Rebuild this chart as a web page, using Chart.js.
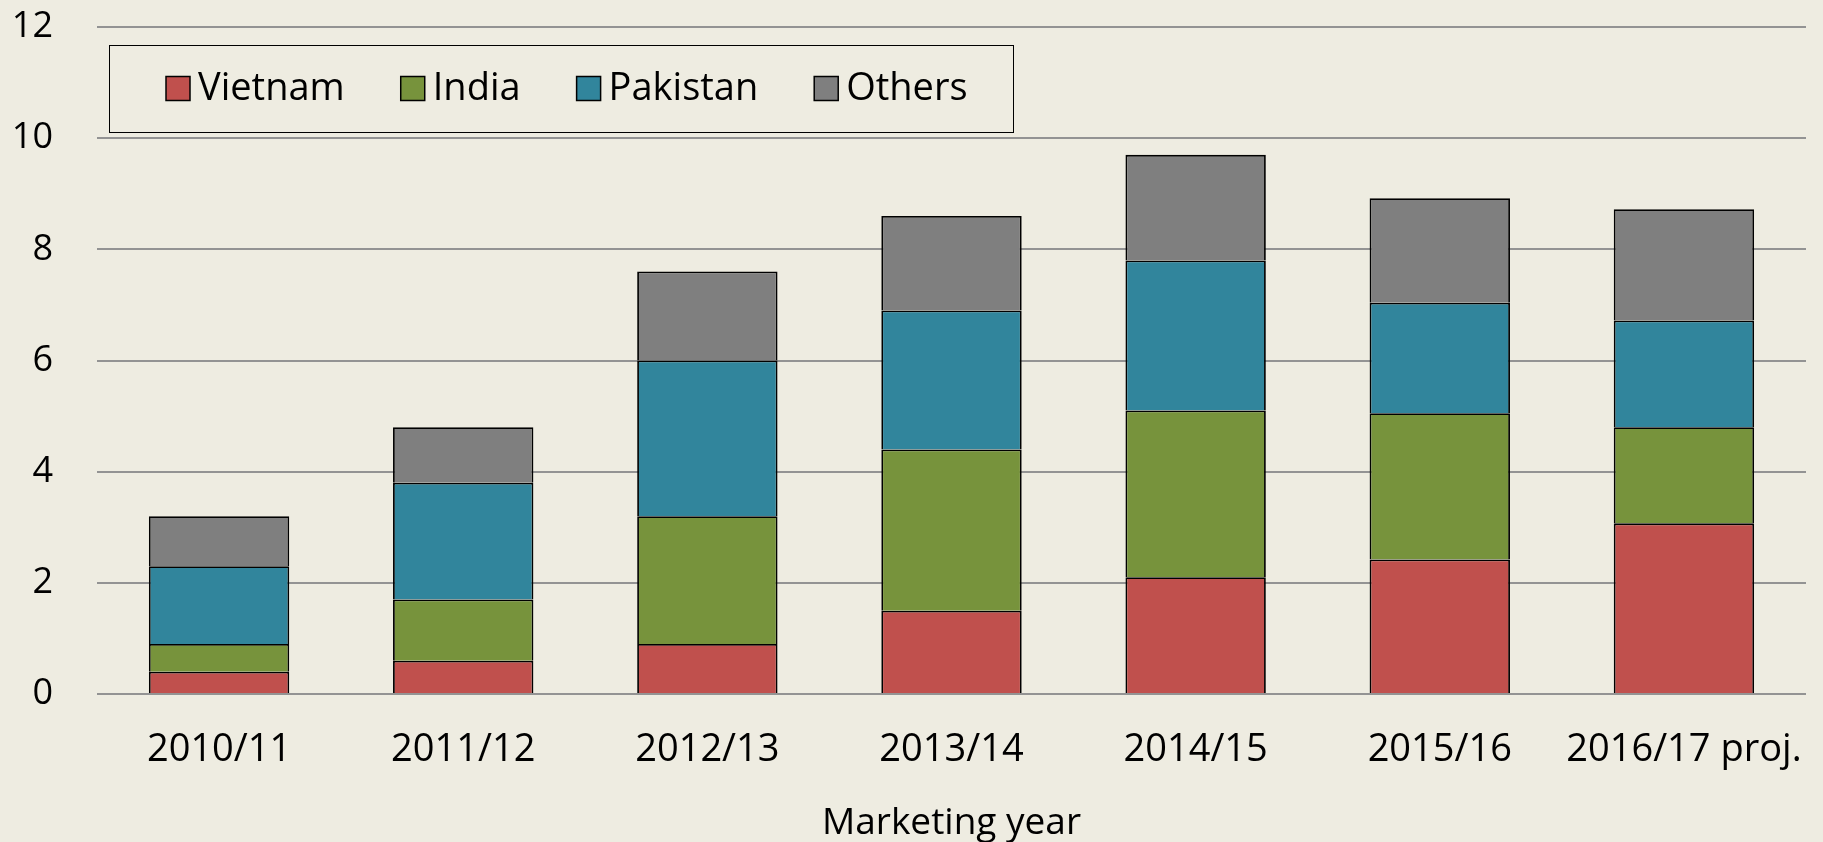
<!DOCTYPE html>
<html>
<head>
<meta charset="utf-8">
<script src="https://cdn.jsdelivr.net/npm/chart.js@4.4.1/dist/chart.umd.min.js"></script>
<style>
  body { margin: 0; background: #EEECE1; }
  #wrap { width: 1823px; height: 842px; position: relative; }
</style>
</head>
<body>
<div id="wrap"><canvas id="myChart"></canvas></div>
<script>
  var years = ["2010/11", "2011/12", "2012/13", "2013/14", "2014/15", "2015/16", "2016/17 proj."];
  var vietnam = [0.4, 0.6, 0.9, 1.5, 2.1, 2.42, 3.07];
  var india = [0.5, 1.1, 2.3, 2.9, 3.0, 2.63, 1.73];
  var pakistan = [1.4, 2.1, 2.8, 2.5, 2.7, 1.99, 1.92];
  var others = [0.9, 1.0, 1.6, 1.7, 1.9, 1.88, 2.0];
  var yTicks = [0, 2, 4, 6, 8, 10, 12];

  var fontFamily = "'Open Sans', 'Liberation Sans', sans-serif";
  var bgColor = "#EEECE1";

  // keep gridlines from running past the last category on the right
  var trimGrid = {
    id: "trimGrid",
    beforeDatasetsDraw: function (chart) {
      var xs = chart.scales.x;
      var area = chart.chartArea;
      var ctx = chart.ctx;
      ctx.save();
      ctx.fillStyle = bgColor;
      ctx.fillRect(xs.right + 1, area.top - 4, chart.width - xs.right, area.bottom - area.top + 8);
      ctx.restore();
    }
  };

  // legend drawn inside the plot area, with a thin box round it
  var boxedLegend = {
    id: "boxedLegend",
    afterDraw: function (chart) {
      var ctx = chart.ctx;
      var area = chart.chartArea;
      var left = area.left + 12;
      var top = area.top + 18;
      var w = 904, h = 87;
      ctx.save();
      ctx.fillStyle = bgColor;
      ctx.fillRect(left, top, w, h);
      ctx.strokeStyle = "#000";
      ctx.lineWidth = 1;
      ctx.strokeRect(left + 0.5, top + 0.5, w, h);
      ctx.font = "38px " + fontFamily;
      ctx.textBaseline = "middle";
      var x = left + 57;
      var cy = top + h / 2;
      chart.data.datasets.forEach(function (ds) {
        ctx.fillStyle = ds.backgroundColor;
        ctx.fillRect(x, cy - 12, 24, 24);
        ctx.strokeStyle = "#000";
        ctx.lineWidth = 1.5;
        ctx.strokeRect(x, cy - 12, 24, 24);
        ctx.fillStyle = "#000";
        ctx.fillText(ds.label, x + 32, cy + 1);
        x += 32 + ctx.measureText(ds.label).width + 56;
      });
      ctx.restore();
    }
  };

  function makeSet(label, values, color) {
    return {
      label: label,
      data: values,
      backgroundColor: color,
      borderColor: "#000",
      borderWidth: 1.8,
      barPercentage: 0.575,
      categoryPercentage: 1.0
    };
  }

  var ctx = document.getElementById("myChart").getContext("2d");
  var chart = new Chart(ctx, {
    type: "bar",
    data: {
      labels: years,
      datasets: [
        makeSet("Vietnam", vietnam, "#C0504D"),
        makeSet("India", india, "#77933C"),
        makeSet("Pakistan", pakistan, "#31859C"),
        makeSet("Others", others, "#7F7F7F")
      ]
    },
    options: {
      responsive: true,
      maintainAspectRatio: false,
      animation: false,
      layout: { padding: { left: 13, right: 17, top: 4, bottom: 0 } },
      plugins: {
        legend: { display: false },
        tooltip: { enabled: false }
      },
      scales: {
        x: {
          stacked: true,
          grid: { display: false },
          border: { display: false },
          ticks: { color: "#000", font: { family: fontFamily, size: 38 }, padding: 25, maxRotation: 0, autoSkip: false },
          title: {
            display: true,
            text: "Marketing year",
            color: "#000",
            font: { family: fontFamily, size: 37, lineHeight: 1.0 },
            padding: { top: 0, bottom: 0 }
          },
          afterFit: function (axis) {
            axis.paddingLeft = 0;
            axis.paddingRight = 0;
            axis.height = 148;
          }
        },
        y: {
          stacked: true,
          min: 0,
          max: 12,
          afterBuildTicks: function (axis) {
            axis.ticks = yTicks.map(function (v) { return { value: v }; });
          },
          afterFit: function (axis) {
            axis.paddingTop = 27;
            axis.paddingBottom = 0;
            axis.width = 84;
          },
          grid: { color: "#939393", lineWidth: 2, drawTicks: false },
          border: { display: false },
          ticks: { color: "#000", font: { family: fontFamily, size: 36 }, padding: 44 }
        }
      }
    },
    plugins: [trimGrid, boxedLegend]
  });
</script>
</body>
</html>
